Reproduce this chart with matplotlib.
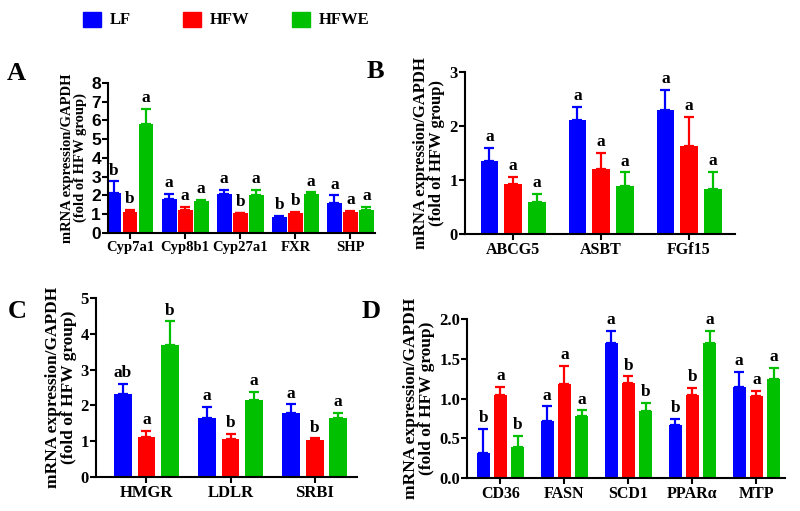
import numpy as np
import matplotlib
matplotlib.use("Agg")
from matplotlib import pyplot as plt
from matplotlib.patches import Rectangle

# ------------------------------------------------------------------------------
#  Data: mean and upper SEM per group
# ------------------------------------------------------------------------------
groups = ["LF", "HFW", "HFWE"]
colors = ["#0000FF", "#FF0000", "#00C000"]

genes_a = ["Cyp7a1", "Cyp8b1", "Cyp27a1", "FXR", "SHP"]
lf_a = [2.15, 1.8, 2.1, 0.87, 1.6]
lf_a_err = [0.6, 0.3, 0.18, 0.05, 0.4]
hfw_a = [1.1, 1.2, 1.05, 1.08, 1.1]
hfw_a_err = [0.15, 0.18, 0.03, 0.06, 0.07]
hfwe_a = [5.8, 1.68, 2.05, 2.08, 1.2]
hfwe_a_err = [0.82, 0.08, 0.23, 0.08, 0.2]
letters_a = [["b", "a", "a", "b", "a"],
             ["b", "a", "b", "b", "a"],
             ["a", "a", "a", "a", "a"]]

genes_b = ["ABCG5", "ASBT", "FGf15"]
lf_b = [1.36, 2.12, 2.29]
lf_b_err = [0.24, 0.23, 0.38]
hfw_b = [0.92, 1.2, 1.63]
hfw_b_err = [0.14, 0.31, 0.54]
hfwe_b = [0.59, 0.89, 0.84]
hfwe_b_err = [0.16, 0.25, 0.31]
letters_b = [["a", "a", "a"], ["a", "a", "a"], ["a", "a", "a"]]

genes_c = ["HMGR", "LDLR", "SRBI"]
lf_c = [2.33, 1.65, 1.8]
lf_c_err = [0.27, 0.32, 0.23]
hfw_c = [1.13, 1.07, 1.03]
hfw_c_err = [0.16, 0.13, 0.05]
hfwe_c = [3.7, 2.15, 1.65]
hfwe_c_err = [0.65, 0.23, 0.15]
letters_c = [["ab", "a", "a"], ["a", "b", "b"], ["b", "a", "a"]]

genes_d = ["CD36", "FASN", "SCD1", "PPAR\u03b1", "MTP"]
lf_d = [0.31, 0.72, 1.7, 0.67, 1.14]
lf_d_err = [0.31, 0.18, 0.15, 0.07, 0.2]
hfw_d = [1.05, 1.18, 1.2, 1.04, 1.03]
hfw_d_err = [0.1, 0.23, 0.08, 0.09, 0.07]
hfwe_d = [0.39, 0.78, 0.84, 1.7, 1.25]
hfwe_d_err = [0.14, 0.07, 0.11, 0.15, 0.14]
letters_d = [["b", "a", "a", "b", "a"],
             ["a", "a", "b", "b", "a"],
             ["b", "a", "b", "a", "a"]]

SERIF = "Liberation Serif"
SANS = "Liberation Sans"

fig = plt.figure(figsize=(8, 5.11), dpi=100)


def bar_panel(rect, genes, means, errs, letters, ylim, yticks, xlim,
              width, offset, tick_font=SERIF, tick_fmt="{:g}", tick_size=12,
              cat_size=11, ylab_size=11):
    ax = fig.add_axes(rect)
    x = np.arange(len(genes))
    for k, (m, e, c) in enumerate(zip(means, errs, colors)):
        xk = x + (k - 1) * offset
        ax.bar(xk, m, width, color=c, zorder=2)
        ax.errorbar(xk, m, yerr=[np.zeros(len(e)), e], fmt="none",
                    ecolor=c, elinewidth=1.6, capsize=3.5, capthick=1.6,
                    zorder=2)
        for xi, top, lab in zip(xk, np.add(m, e), letters[k]):
            ax.annotate(lab, (xi, top), xytext=(0, 2),
                        textcoords="offset points", ha="center", va="bottom",
                        fontsize=12.5, fontweight="bold", family=SERIF)
    ax.set_xlim(*xlim)
    ax.set_ylim(*ylim)
    ax.set_yticks(yticks)
    ax.set_yticklabels([tick_fmt.format(v) for v in yticks],
                       fontsize=tick_size, fontweight="bold", family=tick_font)
    ax.set_xticks(x)
    ax.set_xticklabels(genes, fontsize=cat_size, fontweight="bold",
                       family=SERIF)
    for side in ["top", "right"]:
        ax.spines[side].set_visible(False)
    for side in ["left", "bottom"]:
        ax.spines[side].set_linewidth(1.5)
    ax.tick_params(axis="y", length=4, width=1.5, pad=1)
    ax.tick_params(axis="x", length=4, width=1.5, pad=2)
    ax.set_ylabel("mRNA expression/GAPDH\n(fold of HFW group)",
                  fontsize=ylab_size, fontweight="bold", family=SERIF,
                  linespacing=1.0, labelpad=3)
    return ax


ax_a = bar_panel([0.135, 0.544, 0.334, 0.294], genes_a,
                 [lf_a, hfw_a, hfwe_a], [lf_a_err, hfw_a_err, hfwe_a_err],
                 letters_a, (0, 8), range(0, 9), (-0.4, 4.45), 0.27, 0.29,
                 tick_font=SANS, tick_size=12.5, cat_size=10.5,
                 ylab_size=10.5)
ax_b = bar_panel([0.581, 0.542, 0.3375, 0.317], genes_b,
                 [lf_b, hfw_b, hfwe_b], [lf_b_err, hfw_b_err, hfwe_b_err],
                 letters_b, (0, 3), range(0, 4), (-0.55, 2.52), 0.2, 0.27,
                 cat_size=11.5, ylab_size=12)
ax_c = bar_panel([0.12, 0.0665, 0.326, 0.350], genes_c,
                 [lf_c, hfw_c, hfwe_c], [lf_c_err, hfw_c_err, hfwe_c_err],
                 letters_c, (0, 5), range(0, 6), (-0.6, 2.5), 0.21, 0.28,
                 cat_size=12, ylab_size=12.5)
ax_d = bar_panel([0.584, 0.0646, 0.3975, 0.311], genes_d,
                 [lf_d, hfw_d, hfwe_d], [lf_d_err, hfw_d_err, hfwe_d_err],
                 letters_d, (0, 2), np.arange(0, 2.01, 0.5), (-0.52, 4.45),
                 0.2, 0.27, tick_fmt="{:.1f}", cat_size=11.5, ylab_size=12.5)

# panel letters
for lab, (px, py) in zip("ABCD", [(7, 80), (367, 78), (8, 318), (362, 318)]):
    fig.text(px / 800, 1 - py / 511, lab, fontsize=19, fontweight="bold",
             family=SERIF, ha="left", va="baseline")

# legend across the top
for name, c, px in zip(groups, colors, [83, 183, 292]):
    fig.patches.append(Rectangle((px / 800, 1 - 27 / 511), 18 / 800, 15 / 511,
                                 transform=fig.transFigure, color=c))
    fig.text((px + 27) / 800, 1 - 20 / 511, name, fontsize=12,
             fontweight="bold", family=SERIF, ha="left", va="center")

fig.savefig("out.png", dpi=100)
